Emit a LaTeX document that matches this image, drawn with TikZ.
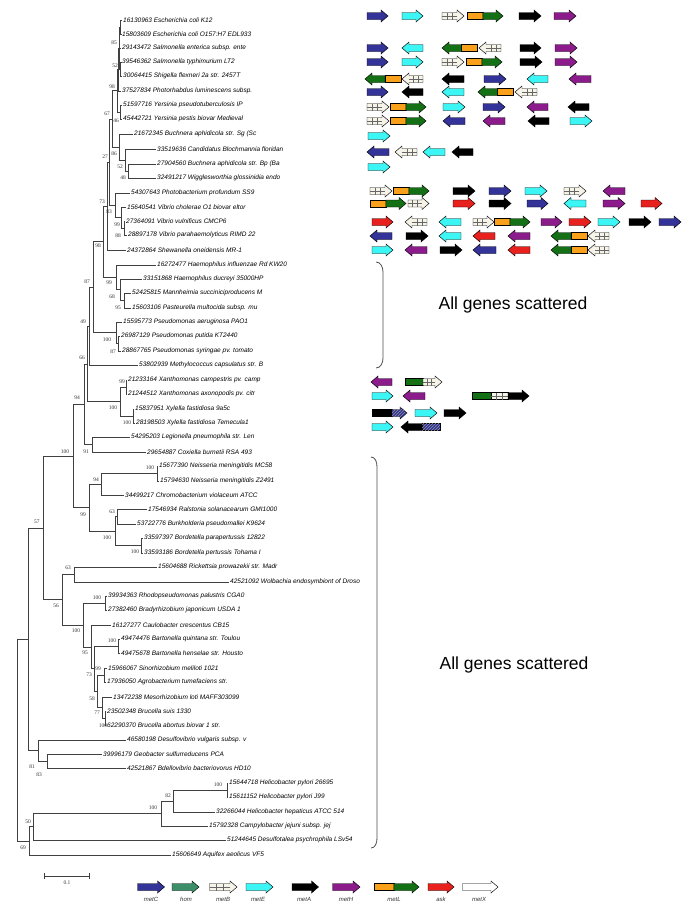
\documentclass[tikz,border=0pt]{standalone}
\usepackage{fontspec}
\newfontfamily\treesans{Liberation Sans}
\newfontfamily\treeserif{Liberation Serif}
\usetikzlibrary{patterns}
\definecolor{metcblue}{HTML}{333399}
\definecolor{homgreen}{HTML}{3D8F6A}
\definecolor{metecyan}{HTML}{3CF5F5}
\definecolor{methpurple}{HTML}{8C1C8C}
\definecolor{metlorange}{HTML}{F9A11B}
\definecolor{metlgreen}{HTML}{147014}
\definecolor{askred}{HTML}{E8201E}
\definecolor{metbcream}{HTML}{F6F4E8}
% gene arrow: tail x, tip x, y, style
\newcommand{\gar}[4]{%
  \pgfmathsetmacro{\gbase}{#2>#1 ? #2-7 : #2+7}%
  \draw[#4] (#1,#3-3.5) -- (\gbase,#3-3.5) -- (\gbase,#3-6) -- (#2,#3)
    -- (\gbase,#3+6) -- (\gbase,#3+3.5) -- (#1,#3+3.5) -- cycle;}
\newcommand{\gbox}[4]{\draw[#4] (#1,#3-3.5) rectangle (#2,#3+3.5);}
\newcommand{\gmetB}[3]{%
  \gar{#1}{#2}{#3}{metB}%
  \pgfmathsetmacro{\gqa}{#1+(\gbase-#1)/3}%
  \pgfmathsetmacro{\gqb}{#1+2*(\gbase-#1)/3}%
  \draw[metBgrid] (#1,#3) -- (\gbase,#3) (\gqa,#3-3.5) -- (\gqa,#3+3.5)
    (\gqb,#3-3.5) -- (\gqb,#3+3.5);}
\newcommand{\gmetBbox}[3]{%
  \gbox{#1}{#2}{#3}{metB}%
  \pgfmathsetmacro{\gqa}{#1+(#2-#1)/3}%
  \pgfmathsetmacro{\gqb}{#1+2*(#2-#1)/3}%
  \draw[metBgrid] (#1,#3) -- (#2,#3) (\gqa,#3-3.5) -- (\gqa,#3+3.5)
    (\gqb,#3-3.5) -- (\gqb,#3+3.5);}
\newcommand{\gmetL}[3]{%
  \pgfmathsetmacro{\gmid}{#1+0.44*(#2-#1)}%
  \gbox{#1}{\gmid}{#3}{metLo}\gar{\gmid}{#2}{#3}{metLg}}

\begin{document}
\begin{tikzpicture}[x=1pt, y=-1pt,
    leaf/.style={anchor=west, inner sep=1pt, font=\treesans\itshape\fontsize{6.5}{7}\selectfont},
    boot/.style={inner sep=0pt, font=\treeserif\fontsize{5.5}{6}\selectfont, text=black!80},
    branch/.style={black!75, line width=0.6pt},
    gene/.style={draw=black, line width=0.45pt},
    metC/.style={gene, fill=metcblue}, hom/.style={gene, fill=homgreen},
    metB/.style={gene, fill=metbcream}, metE/.style={gene, fill=metecyan},
    metA/.style={gene, fill=black}, metH/.style={gene, fill=methpurple},
    metLo/.style={gene, fill=metlorange}, metLg/.style={gene, fill=metlgreen},
    ask/.style={gene, fill=askred}, metX/.style={gene, fill=white},
    metCh/.style={gene, fill=metcblue, postaction={pattern=north east lines, pattern color=gray!85}},
    metBgrid/.style={black!60, line width=0.35pt},
    legtext/.style={inner sep=0pt, font=\treesans\itshape\fontsize{6}{7}\selectfont, text=black!80},
    bracket/.style={black!70, line width=0.8pt},
    note/.style={inner sep=0pt, font=\treesans\fontsize{17.5}{20}\selectfont}]
  \useasboundingbox (0,0) rectangle (685,913);

  % Leaves
  \node[leaf] (l1) at (122,20) {16130963 Escherichia coli K12};
  \node[leaf] (l2) at (121,34) {15803609 Escherichia coli O157:H7 EDL933};
  \node[leaf] (l3) at (121,48) {29143472 Salmonella enterica subsp. ente};
  \node[leaf] (l4) at (121,62) {39546362 Salmonella typhimurium LT2};
  \node[leaf] (l5) at (122,76) {30064415 Shigella flexneri 2a str. 2457T};
  \node[leaf] (l6) at (121,91) {37527834 Photorhabdus luminescens subsp.};
  \node[leaf] (l7) at (122,105) {51597716 Yersinia pseudotuberculosis IP};
  \node[leaf] (l8) at (122,119) {45442721 Yersinia pestis biovar Medieval};
  \node[leaf] (l9) at (133,134) {21672345 Buchnera aphidicola str. Sg (Sc};
  \node[leaf] (l10) at (156,149) {33519636 Candidatus Blochmannia floridan};
  \node[leaf] (l11) at (156,164) {27904560 Buchnera aphidicola str. Bp (Ba};
  \node[leaf] (l12) at (156,178) {32491217 Wigglesworthia glossinidia endo};
  \node[leaf] (l13) at (130,193) {54307643 Photobacterium profundum SS9};
  \node[leaf] (l14) at (126,207) {15640541 Vibrio cholerae O1 biovar eltor};
  \node[leaf] (l15) at (125,221) {27364091 Vibrio vulnificus CMCP6};
  \node[leaf] (l16) at (127,235) {28897178 Vibrio parahaemolyticus RIMD 22};
  \node[leaf] (l17) at (126,250) {24372864 Shewanella oneidensis MR-1};
  \node[leaf] (l18) at (156,265) {16272477 Haemophilus influenzae Rd KW20};
  \node[leaf] (l19) at (142,279) {33151868 Haemophilus ducreyi 35000HP};
  \node[leaf] (l20) at (131,293) {52425815 Mannheimia succiniciproducens M};
  \node[leaf] (l21) at (131,308) {15603106 Pasteurella multocida subsp. mu};
  \node[leaf] (l22) at (122,322) {15595773 Pseudomonas aeruginosa PAO1};
  \node[leaf] (l23) at (120,336) {26987129 Pseudomonas putida KT2440};
  \node[leaf] (l24) at (121,351) {28867765 Pseudomonas syringae pv. tomato};
  \node[leaf] (l25) at (138,365) {53802939 Methylococcus capsulatus str. B};
  \node[leaf] (l26) at (127,380) {21233164 Xanthomonas campestris pv. camp};
  \node[leaf] (l27) at (127,394) {21244512 Xanthomonas axonopodis pv. citr};
  \node[leaf] (l28) at (134,409) {15837951 Xylella fastidiosa 9a5c};
  \node[leaf] (l29) at (135,423) {28198503 Xylella fastidiosa Temecula1};
  \node[leaf] (l30) at (130,437) {54295203 Legionella pneumophila str. Len};
  \node[leaf] (l31) at (146,452) {29654887 Coxiella burnetii RSA 493};
  \node[leaf] (l32) at (158,466) {15677390 Neisseria meningitidis MC58};
  \node[leaf] (l33) at (159,481) {15794630 Neisseria meningitidis Z2491};
  \node[leaf] (l34) at (124,495) {34499217 Chromobacterium violaceum ATCC};
  \node[leaf] (l35) at (147,509) {17546934 Ralstonia solanacearum GMI1000};
  \node[leaf] (l36) at (136,524) {53722776 Burkholderia pseudomallei K9624};
  \node[leaf] (l37) at (143,538) {33597397 Bordetella parapertussis 12822};
  \node[leaf] (l38) at (143,553) {33593186 Bordetella pertussis Tohama I};
  \node[leaf] (l39) at (157,567) {15604688 Rickettsia prowazekii str. Madr};
  \node[leaf] (l40) at (229,582) {42521092 Wolbachia endosymbiont of Droso};
  \node[leaf] (l41) at (107,596) {39934363 Rhodopseudomonas palustris CGA0};
  \node[leaf] (l42) at (107,610) {27382460 Bradyrhizobium japonicum USDA 1};
  \node[leaf] (l43) at (111,625) {16127277 Caulobacter crescentus CB15};
  \node[leaf] (l44) at (120,639) {49474476 Bartonella quintana str. Toulou};
  \node[leaf] (l45) at (120,653) {49475678 Bartonella henselae str. Housto};
  \node[leaf] (l46) at (107,668) {15966067 Sinorhizobium meliloti 1021};
  \node[leaf] (l47) at (106,682) {17936050 Agrobacterium tumefaciens str.};
  \node[leaf] (l48) at (112,697) {13472238 Mesorhizobium loti MAFF303099};
  \node[leaf] (l49) at (106,711) {23502348 Brucella suis 1330};
  \node[leaf] (l50) at (106,725) {62290370 Brucella abortus biovar 1 str.};
  \node[leaf] (l51) at (126,740) {46580198 Desulfovibrio vulgaris subsp. v};
  \node[leaf] (l52) at (102,754) {39996179 Geobacter sulfurreducens PCA};
  \node[leaf] (l53) at (126,768) {42521867 Bdellovibrio bacteriovorus HD10};
  \node[leaf] (l54) at (228,783) {15644718 Helicobacter pylori 26695};
  \node[leaf] (l55) at (228,797) {15611152 Helicobacter pylori J99};
  \node[leaf] (l56) at (215,812) {32266044 Helicobacter hepaticus ATCC 514};
  \node[leaf] (l57) at (208,826) {15792328 Campylobacter jejuni subsp. jej};
  \node[leaf] (l58) at (226,840) {51244645 Desulfotalea psychrophila LSv54};
  \node[leaf] (l59) at (171,855) {15606649 Aquifex aeolicus VF5};

  % Internal nodes
  \coordinate (nEa) at (120.5,27);
  \coordinate (nEb) at (120.5,69);
  \coordinate (n85) at (119.5,48);
  \coordinate (n52e) at (118.5,69.5);
  \coordinate (nYer) at (120.5,112);
  \coordinate (n98) at (117,90.75);
  \coordinate (n48) at (128,171);
  \coordinate (n52) at (125,160);
  \coordinate (n86) at (119,147);
  \coordinate (n67) at (112,118.9);
  \coordinate (n88) at (124,228);
  \coordinate (n99) at (121,217.5);
  \coordinate (n83) at (115,205.25);
  \coordinate (n27) at (109,162.1);
  \coordinate (n73) at (107,206);
  \coordinate (n95) at (124,300.5);
  \coordinate (n68) at (120,289.75);
  \coordinate (n99b) at (116,277.4);
  \coordinate (n98b) at (103,241.7);
  \coordinate (n87) at (118,343.5);
  \coordinate (n100p) at (116.5,332.75);
  \coordinate (n87b) at (93,287.2);
  \coordinate (n49) at (89,326.1);
  \coordinate (n99x) at (126,387);
  \coordinate (n100y) at (133,416);
  \coordinate (n100x) at (120,401.5);
  \coordinate (n66) at (87,363.8);
  \coordinate (n91) at (92,444.5);
  \coordinate (n94) at (84,404.1);
  \coordinate (n100n) at (157,473.5);
  \coordinate (n94b) at (101,484.25);
  \coordinate (n63b) at (117,516.5);
  \coordinate (n100b) at (141.5,545.5);
  \coordinate (n100c) at (115,531);
  \coordinate (n99c) at (89,507.6);
  \coordinate (n100) at (73,455.9);
  \coordinate (n63) at (74,574.5);
  \coordinate (n100r) at (105,603);
  \coordinate (n100bt) at (118,646);
  \coordinate (n99r) at (104,675);
  \coordinate (n100br) at (105,718);
  \coordinate (n77) at (102,707.5);
  \coordinate (n58) at (97,691.25);
  \coordinate (n73r) at (94,668.6);
  \coordinate (n95a) at (91,646.8);
  \coordinate (n100a) at (83,624.9);
  \coordinate (n56) at (62,599.7);
  \coordinate (n57) at (43,527.8);
  \coordinate (n83b) at (47,761);
  \coordinate (n81) at (38,750.5);
  \coordinate (nR) at (28,639.2);
  \coordinate (n100h) at (227,790);
  \coordinate (n82) at (173,801);
  \coordinate (n100e) at (161,813.5);
  \coordinate (n50) at (33,826.75);
  \coordinate (n69) at (29,840.9);
  \coordinate (root) at (17,740);

  % Branches
  \draw[branch] (nEa) |- (l1.west) (nEa) |- (l2.west);
  \draw[branch] (nEb) |- (l4.west) (nEb) |- (l5.west);
  \draw[branch] (n85) |- (nEa) (n85) |- (l3.west) (n85) |- (nEb);
  \draw[branch] (n52e) |- (n85) (n52e) |- (l6.west);
  \draw[branch] (nYer) |- (l7.west) (nYer) |- (l8.west);
  \draw[branch] (n98) |- (n52e) (n98) |- (nYer);
  \draw[branch] (n48) |- (l11.west) (n48) |- (l12.west);
  \draw[branch] (n52) |- (l10.west) (n52) |- (n48);
  \draw[branch] (n86) |- (l9.west) (n86) |- (n52);
  \draw[branch] (n67) |- (n98) (n67) |- (n86);
  \draw[branch] (n88) |- (l15.west) (n88) |- (l16.west);
  \draw[branch] (n99) |- (l14.west) (n99) |- (n88);
  \draw[branch] (n83) |- (l13.west) (n83) |- (n99);
  \draw[branch] (n27) |- (n67) (n27) |- (n83);
  \draw[branch] (n73) |- (n27) (n73) |- (l17.west);
  \draw[branch] (n95) |- (l20.west) (n95) |- (l21.west);
  \draw[branch] (n68) |- (l19.west) (n68) |- (n95);
  \draw[branch] (n99b) |- (l18.west) (n99b) |- (n68);
  \draw[branch] (n98b) |- (n73) (n98b) |- (n99b);
  \draw[branch] (n87) |- (l23.west) (n87) |- (l24.west);
  \draw[branch] (n100p) |- (l22.west) (n100p) |- (n87);
  \draw[branch] (n87b) |- (n98b) (n87b) |- (n100p);
  \draw[branch] (n49) |- (n87b) (n49) |- (l25.west);
  \draw[branch] (n99x) |- (l26.west) (n99x) |- (l27.west);
  \draw[branch] (n100y) |- (l28.west) (n100y) |- (l29.west);
  \draw[branch] (n100x) |- (n99x) (n100x) |- (n100y);
  \draw[branch] (n66) |- (n49) (n66) |- (n100x);
  \draw[branch] (n91) |- (l30.west) (n91) |- (l31.west);
  \draw[branch] (n94) |- (n66) (n94) |- (n91);
  \draw[branch] (n100n) |- (l32.west) (n100n) |- (l33.west);
  \draw[branch] (n94b) |- (n100n) (n94b) |- (l34.west);
  \draw[branch] (n63b) |- (l35.west) (n63b) |- (l36.west);
  \draw[branch] (n100b) |- (l37.west) (n100b) |- (l38.west);
  \draw[branch] (n100c) |- (n63b) (n100c) |- (n100b);
  \draw[branch] (n99c) |- (n94b) (n99c) |- (n100c);
  \draw[branch] (n100) |- (n94) (n100) |- (n99c);
  \draw[branch] (n63) |- (l39.west) (n63) |- (l40.west);
  \draw[branch] (n100r) |- (l41.west) (n100r) |- (l42.west);
  \draw[branch] (n100bt) |- (l44.west) (n100bt) |- (l45.west);
  \draw[branch] (n99r) |- (l46.west) (n99r) |- (l47.west);
  \draw[branch] (n100br) |- (l49.west) (n100br) |- (l50.west);
  \draw[branch] (n77) |- (l48.west) (n77) |- (n100br);
  \draw[branch] (n58) |- (n99r) (n58) |- (n77);
  \draw[branch] (n73r) |- (n100bt) (n73r) |- (n58);
  \draw[branch] (n95a) |- (l43.west) (n95a) |- (n73r);
  \draw[branch] (n100a) |- (n100r) (n100a) |- (n95a);
  \draw[branch] (n56) |- (n63) (n56) |- (n100a);
  \draw[branch] (n57) |- (n100) (n57) |- (n56);
  \draw[branch] (n83b) |- (l52.west) (n83b) |- (l53.west);
  \draw[branch] (n81) |- (l51.west) (n81) |- (n83b);
  \draw[branch] (nR) |- (n57) (nR) |- (n81);
  \draw[branch] (n100h) |- (l54.west) (n100h) |- (l55.west);
  \draw[branch] (n82) |- (n100h) (n82) |- (l56.west);
  \draw[branch] (n100e) |- (n82) (n100e) |- (l57.west);
  \draw[branch] (n50) |- (n100e) (n50) |- (l58.west);
  \draw[branch] (n69) |- (n50) (n69) |- (l59.west);
  \draw[branch] (root) |- (nR) (root) |- (n69);

  % Bootstrap values
  \node[boot] (tn85) at (114,43) {85};
  \node[boot] (tn52e) at (115,66) {52};
  \node[boot] (tn98) at (112,87) {98};
  \node[boot] (tn67) at (107,114) {67};
  \node[boot] (tnYer) at (116,121) {46};
  \node[boot] (tn27) at (105,157) {27};
  \node[boot] (tn86) at (114,154) {86};
  \node[boot] (tn52) at (120,167) {52};
  \node[boot] (tn48) at (123,178) {48};
  \node[boot] (tn73) at (102,202) {73};
  \node[boot] (tn83) at (109,212) {83};
  \node[boot] (tn99) at (117,225) {99};
  \node[boot] (tn88) at (118,236) {88};
  \node[boot] (tn98b) at (98,246) {98};
  \node[boot] (tn87b) at (87,282) {87};
  \node[boot] (tn99b) at (109,283) {99};
  \node[boot] (tn68) at (112,297) {68};
  \node[boot] (tn95) at (118,308) {95};
  \node[boot] (tn49) at (83,322) {49};
  \node[boot] (tn100p) at (107,340) {100};
  \node[boot] (tn87) at (113,352) {87};
  \node[boot] (tn66) at (82,358) {66};
  \node[boot] (tn99x) at (122,382) {99};
  \node[boot] (tn94) at (77,398) {94};
  \node[boot] (tn100x) at (113,408) {100};
  \node[boot] (tn100y) at (127,423) {100};
  \node[boot] (tn100) at (65,452) {100};
  \node[boot] (tn91) at (86,452) {91};
  \node[boot] (tn100n) at (150,468) {100};
  \node[boot] (tn94b) at (96,480) {94};
  \node[boot] (tn99c) at (83,515) {99};
  \node[boot] (tn63b) at (112,512) {63};
  \node[boot] (tn100c) at (107,538) {100};
  \node[boot] (tn100b) at (135,552) {100};
  \node[boot] (tn57) at (37,522) {57};
  \node[boot] (tn63) at (68,568) {63};
  \node[boot] (tn56) at (56,606) {56};
  \node[boot] (tn100r) at (97,598) {100};
  \node[boot] (tn100a) at (76,631) {100};
  \node[boot] (tn95a) at (85,653) {95};
  \node[boot] (tn100bt) at (112,641) {100};
  \node[boot] (tn99r) at (98,669) {99};
  \node[boot] (tn73r) at (89,675) {73};
  \node[boot] (tn58) at (92,699) {58};
  \node[boot] (tn77) at (97,713) {77};
  \node[boot] (tn100br) at (103,726) {100};
  \node[boot] (tn81) at (32,767) {81};
  \node[boot] (tn83b) at (39,775) {83};
  \node[boot] (tn100h) at (218,785) {100};
  \node[boot] (tn82) at (168,796) {82};
  \node[boot] (tn100e) at (153,808) {100};
  \node[boot] (tn50) at (28,822) {50};
  \node[boot] (tn69) at (23,848) {69};

  % Scale bar
  \coordinate (scl) at (44,876);
  \coordinate (scr) at (89,876);
  \draw[branch] (scl) -- (scr) ([yshift=3pt]scl) -- ([yshift=-3pt]scl) ([yshift=3pt]scr) -- ([yshift=-3pt]scr);
  \node[boot] (sclab) at (67,883) {0.1};

  % Gene clusters
  \gar{367}{388}{16}{metC} \gar{402}{423}{16}{metE} \gmetB{442}{464}{16} \gmetL{467}{503}{16}
  \gar{519}{541}{16}{metA} \gar{554}{576}{16}{metH}

  \gar{367}{388}{48}{metC} \gar{423}{402}{48}{metE} \gmetL{477}{442}{48} \gmetB{501}{479}{48}
  \gar{520}{541}{48}{metA} \gar{555}{577}{48}{metH}

  \gar{367}{388}{62}{metC} \gar{402}{423}{62}{metE} \gmetB{442}{464}{62} \gmetL{466}{502}{62}
  \gar{520}{542}{62}{metA} \gar{555}{577}{62}{metH}

  \gmetL{401}{365}{79} \gmetB{423}{402}{79} \gar{464}{442}{79}{metA} \gar{484}{506}{79}{metC}
  \gar{548}{527}{79}{metE} \gar{591}{569}{79}{metH}

  \gar{367}{388}{92}{metC} \gar{423}{402}{92}{metA} \gar{464}{442}{92}{metE} \gmetL{513}{478}{92}
  \gmetB{537}{515}{92}

  \gmetB{367}{389}{107} \gmetL{390}{426}{107} \gar{443}{465}{107}{metE} \gar{483}{505}{107}{metC}
  \gar{548}{527}{107}{metH} \gar{589}{568}{107}{metA}

  \gmetB{367}{389}{121} \gmetL{390}{426}{121} \gar{465}{443}{121}{metC} \gar{505}{483}{121}{metH}
  \gar{549}{528}{121}{metA} \gar{570}{592}{121}{metE}

  \gar{368}{390}{136}{metE}
  \gar{389}{367}{152}{metC} \gmetB{417}{395}{152} \gar{445}{423}{152}{metE} \gar{473}{452}{152}{metA}
  \gar{368}{390}{167}{metE}

  \gmetB{370}{392}{191} \gmetL{393}{429}{191} \gar{453}{475}{191}{metA} \gar{489}{511}{191}{metC}
  \gar{525}{547}{191}{metE} \gmetB{564}{586}{191} \gar{625}{603}{191}{metH}

  \gmetL{370}{406}{203.5} \gmetB{408}{429}{203.5} \gar{453}{475}{203.5}{ask} \gar{489}{511}{203.5}{metA}
  \gar{527}{548}{203.5}{metC} \gar{586}{564}{203.5}{metE} \gar{603}{625}{203.5}{metH} \gar{641}{662}{203.5}{ask}

  \gar{372}{393}{222}{ask} \gmetB{427}{405}{222} \gar{461}{439}{222}{metE} \gmetB{473}{494}{222}
  \gmetL{494}{530}{222} \gar{541}{562}{222}{metH} \gar{569}{591}{222}{ask} \gar{598}{620}{222}{metE}
  \gar{629}{651}{222}{metA} \gar{659}{681}{222}{metC}

  \gar{392}{370}{236}{metC} \gar{406}{428}{236}{metA} \gar{461}{439}{236}{metE} \gar{495}{473}{236}{ask}
  \gar{530}{508}{236}{metH} \gmetL{587}{551}{236} \gmetB{609}{588}{236}

  \gar{372}{393}{250}{metE} \gar{427}{405}{250}{metH} \gar{440}{462}{250}{metA} \gar{496}{473}{250}{metC}
  \gar{530}{508}{250}{ask} \gmetL{587}{551}{250} \gmetB{609}{588}{250}

  \gar{392}{371}{382}{metH} \gbox{405}{423}{382}{metLg} \gmetB{423}{442}{382}
  \gar{372}{393}{396}{metE} \gar{425}{403}{396}{metH}
  \gbox{472}{491}{396}{metLg} \gmetBbox{491}{508}{396} \gar{508}{529}{396}{metA}
  \gbox{372}{392}{413}{metA} \gar{392}{407}{413}{metCh} \gar{415}{437}{413}{metE} \gar{444}{466}{413}{metA}
  \gar{372}{393}{427}{metE} \gar{422}{401}{427}{metA} \gbox{422}{440}{427}{metCh}

  % Scattered groups
  \draw[bracket] (376,262) to[out=0, in=90] (383,272) -- (383,358) to[out=-90, in=0] (376,368);
  \node[note] (scat1) at (513,305) {All genes scattered};
  \draw[bracket] (371,457) to[out=0, in=90] (377,467) -- (377,838) to[out=-90, in=0] (371,848);
  \node[note] (scat2) at (514,665) {All genes scattered};

  % Legend
  \gar{137.5}{164.5}{887}{metC} \gar{172}{199}{887}{hom} \gmetB{209.5}{237}{887}
  \gar{246}{273}{887}{metE} \gar{292}{318.5}{887}{metA} \gar{332.5}{360}{887}{metH}
  \gmetL{374}{419}{887} \gar{428}{454}{887}{ask} \gar{462.5}{498}{887}{metX}
  \node[legtext] (lgC) at (151,899) {metC};
  \node[legtext] (lgHom) at (186,899) {hom};
  \node[legtext] (lgB) at (223,899) {metB};
  \node[legtext] (lgE) at (258,899) {metE};
  \node[legtext] (lgA) at (304,899) {metA};
  \node[legtext] (lgH) at (346,899) {metH};
  \node[legtext] (lgL) at (394,899) {metL};
  \node[legtext] (lgAsk) at (441,899) {ask};
  \node[legtext] (lgX) at (479,899) {metX};
\end{tikzpicture}
\end{document}
